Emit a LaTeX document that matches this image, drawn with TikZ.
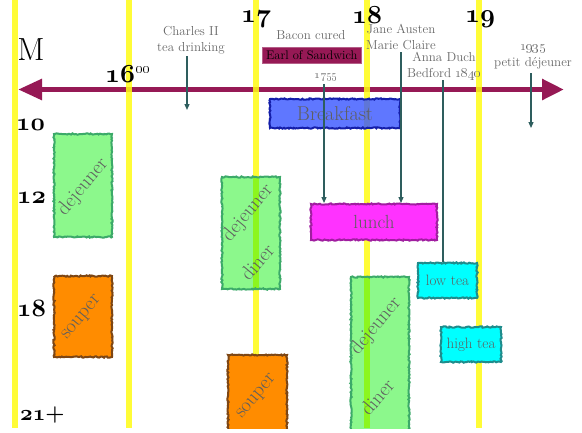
\RequirePackage{fix-cm}
\documentclass[tikz,border=0pt]{standalone}
\usetikzlibrary{arrows.meta,decorations.pathmorphing}
\definecolor{mymaroon}{RGB}{150,25,85}
\definecolor{myyellow}{RGB}{255,252,20}
\definecolor{ggreen}{RGB}{0,240,0}
\definecolor{gborder}{RGB}{60,170,105}
\definecolor{oorange}{RGB}{255,140,0}
\definecolor{oborder}{RGB}{125,70,20}
\definecolor{bblue}{RGB}{55,85,255}
\definecolor{bborder}{RGB}{20,30,170}
\definecolor{mmag}{RGB}{255,50,255}
\definecolor{mborder}{RGB}{160,30,160}
\definecolor{ccyan}{RGB}{0,255,255}
\definecolor{cborder}{RGB}{30,140,140}
\definecolor{boxtext}{RGB}{95,95,95}
\definecolor{lblgray}{RGB}{105,105,105}
\definecolor{arrowteal}{RGB}{46,94,94}
\newcommand\bosn[1]{{\usefont{OML}{cmm}{b}{it}#1}}
\begin{document}
\begin{tikzpicture}[x=1pt,y=-1pt,
  rough/.style={draw, line width=2pt, decorate,
    decoration={random steps, segment length=1.5pt, amplitude=0.7pt},
    inner sep=0pt, anchor=north west},
  gbox/.style={rough, draw=gborder, fill=ggreen, fill opacity=0.45},
  obox/.style={rough, draw=oborder, fill=oorange},
  cbox/.style={rough, draw=cborder, fill=ccyan, text=boxtext, font=\fontsize{15}{15}\selectfont},
  btext/.style={text=boxtext, font=\fontsize{20}{20}\selectfont, inner sep=0pt, rotate=50},
  lbl/.style={text=lblgray, font=\fontsize{13}{16}\selectfont, align=center, inner sep=0pt},
  pointer/.style={draw=arrowteal, line width=1.2pt, -{Triangle[length=6pt,width=5pt]}},
  plainline/.style={draw=arrowteal, line width=1.2pt},
  big/.style={font=\fontsize{26}{26}\selectfont, anchor=base, inner sep=0pt},
  side/.style={font=\fontsize{25}{25}\selectfont, anchor=base west, inner sep=0pt},
  yline/.style={draw=myyellow, line width=6pt, draw opacity=0.85},
  timeline/.style={draw=mymaroon, line width=5.5pt,
    {Triangle[length=24pt,width=20pt]}-{Triangle[length=22pt,width=20pt]}}
]
\useasboundingbox (0,0) rectangle (582,432);
\fill[white] (0,0) rectangle (582,432);
\begin{scope}
\clip (0,0) rectangle (582,428);
% main timeline
\coordinate (tl) at (18,89.5);
\coordinate (tr) at (564,89.5);
\draw[timeline] (tl) -- (tr);
% century lines
\foreach \x [count=\i] in {14.5,129,256,367,479} {
  \coordinate (yt\i) at (\x,0);
  \coordinate (yb\i) at (\x,428);
  \draw[yline] (yt\i) -- (yb\i);
}
% boxes
\node[gbox, minimum width=58pt, minimum height=103pt] (dejL) at (53,133) {};
\node[obox, minimum width=58pt, minimum height=81pt] (soupL) at (53,275) {};
\node[gbox, minimum width=58pt, minimum height=112pt] (dejM) at (221,176) {};
\node[obox, minimum width=59pt, minimum height=90pt] (soupM) at (227,354) {};
\node[gbox, minimum width=58pt, minimum height=170pt] (dejR) at (350,276) {};
\node[rough, draw=bborder, fill=bblue, fill opacity=0.8, text opacity=1, text=boxtext,
  font=\fontsize{20}{20}\selectfont, minimum width=130pt, minimum height=29pt] (breakfast) at (269,98) {Breakfast};
\node[rough, draw=mborder, fill=mmag, text=boxtext,
  font=\fontsize{19}{19}\selectfont, minimum width=126pt, minimum height=36pt] (lunch) at (310,203) {lunch};
\node[cbox, minimum width=59pt, minimum height=35pt] (lowtea) at (417,262) {low tea};
\node[cbox, minimum width=60pt, minimum height=35pt] (hightea) at (440,326) {high tea};
\node[fill=mymaroon, draw=mymaroon!70!white, line width=0.6pt, inner sep=0pt, anchor=north west,
  minimum width=99pt, minimum height=16pt, text=black, font=\fontsize{12.5}{12.5}\selectfont] (earl) at (262,47) {Earl of Sandwich};
% box texts
\node[btext] (tdejL) at (83,187) {dejeuner};
\node[btext] (tsoupL) at (82,318) {souper};
\node[btext] (tdejM) at (248,213) {dejeuner};
\node[btext] (tdinM) at (257,262) {diner};
\node[btext] (tsoupM) at (257,397) {souper};
\node[btext] (tdejR) at (376,326) {dejeuner};
\node[btext] (tdinR) at (377,397) {diner};
% labels
\node[lbl] (charles) at (191,40) {Charles II\\tea drinking};
\node[lbl] (bacon) at (311,35) {Bacon cured};
\node[lbl, font=\fontsize{12}{12}\selectfont] (y1755) at (326,77) {\oldstylenums{1755}};
\node[lbl] (jane) at (401,37) {Jane Austen\\Marie Claire};
\node[lbl] (anna) at (444,66) {Anna Duch\\Bedford \oldstylenums{1840}};
\node[lbl] (petit) at (533,57) {\oldstylenums{1935}\\petit déjeuner};
% pointers
\coordinate (pc) at (187,56);
\coordinate (pce) at (187,110);
\draw[pointer] (pc) -- (pce);
\coordinate (p1755) at (324,84);
\draw[pointer] (p1755) -- (p1755 |- lunch.north);
\coordinate (pjane) at (401,52);
\draw[pointer] (pjane) -- (pjane |- lunch.north);
\coordinate (panna) at (443,80);
\draw[plainline] (panna) -- (panna |- lowtea.north);
\coordinate (ppetit) at (531,73);
\coordinate (ppetite) at (531,128);
\draw[pointer] (ppetit) -- (ppetite);
% big numbers
\node[font=\fontsize{32}{32}\selectfont, anchor=base, inner sep=0pt] (nM) at (31,60) {M};
\node[font=\fontsize{26}{26}\selectfont, anchor=base west, inner sep=0pt] (n16) at (105,82)
  {\bosn{16}\raisebox{9pt}{\fontsize{16}{16}\selectfont\oldstylenums{00}}};
\node[big] (n17) at (256,22) {\bosn{17}};
\node[big] (n18) at (367,23) {\bosn{18}};
\node[big] (n19) at (480,22) {\bosn{19}};
\node[side] (h10) at (16,130) {\bosn{10}};
\node[side] (h12) at (17,203) {\bosn{12}};
\node[side] (h18) at (17,316) {\bosn{18}};
\node[side, font=\fontsize{22}{22}\selectfont] (h21) at (20,420) {\bosn{21}\textbf{+}};
\end{scope}
\end{tikzpicture}
\end{document}
